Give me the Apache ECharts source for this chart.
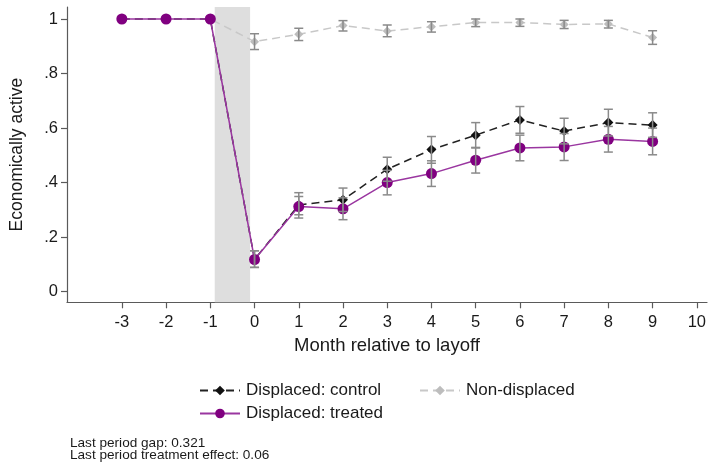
<!DOCTYPE html>
<html>
<head>
<meta charset="utf-8">
<script src="https://cdn.jsdelivr.net/npm/echarts@6/dist/echarts.min.js"></script>
<style>
  html, body { margin: 0; padding: 0; background: #fff; }
  #chart { width: 709px; height: 463px; }
</style>
</head>
<body>
<div id="chart"></div>
<script>
// Months relative to layoff
const months = [-3, -2, -1, 0, 1, 2, 3, 4, 5, 6, 7, 8, 9];
const xTicks = [-3, -2, -1, 0, 1, 2, 3, 4, 5, 6, 7, 8, 9, 10];
const yTicks = [0, 0.2, 0.4, 0.6, 0.8, 1];

// Share economically active, with 95% CI bounds
const controlMean = [1, 1, 1, 0.118, 0.318, 0.337, 0.449, 0.521, 0.574, 0.630, 0.589, 0.620, 0.611];
const controlLo   = [1, 1, 1, 0.089, 0.282, 0.294, 0.405, 0.471, 0.527, 0.581, 0.542, 0.571, 0.566];
const controlHi   = [1, 1, 1, 0.150, 0.363, 0.380, 0.493, 0.569, 0.620, 0.679, 0.636, 0.669, 0.656];

const treatedMean = [1, 1, 1, 0.118, 0.312, 0.304, 0.400, 0.433, 0.482, 0.527, 0.531, 0.559, 0.551];
const treatedLo   = [1, 1, 1, 0.089, 0.270, 0.264, 0.355, 0.386, 0.435, 0.480, 0.481, 0.512, 0.502];
const treatedHi   = [1, 1, 1, 0.150, 0.349, 0.344, 0.445, 0.480, 0.529, 0.574, 0.580, 0.606, 0.600];

const nonDispMean = [1, 1, 1, 0.917, 0.944, 0.976, 0.956, 0.972, 0.987, 0.987, 0.980, 0.982, 0.932];
const nonDispLo   = [1, 1, 1, 0.888, 0.921, 0.956, 0.935, 0.952, 0.972, 0.973, 0.965, 0.967, 0.907];
const nonDispHi   = [1, 1, 1, 0.946, 0.966, 0.994, 0.978, 0.990, 1.000, 1.000, 0.995, 0.995, 0.957];

// Shaded layoff window
const layoffBand = [-0.9, -0.1];

const notes = ['Last period gap: 0.321', 'Last period treatment effect: 0.06'];

const FONT = '"Liberation Sans", Arial, Helvetica, sans-serif';
const TXT = '#1a1a1a';
const AXIS = '#5a5a5a';
const CI_COLOR = '#8a8a8a';

const pair = (ys) => months.map((m, i) => [m, ys[i]]);

// Capped range bars drawn through the axes' coordinate system
function capSeries(lo, hi) {
  return {
    type: 'custom',
    z: 5,
    silent: true,
    data: months.map((m, i) => [m, lo[i], hi[i]]),
    encode: { x: 0, y: [1, 2] },
    renderItem: function (params, api) {
      const x = api.value(0), l = api.value(1), h = api.value(2);
      if (h - l < 1e-6) return null;
      const a = api.coord([x, l]);
      const b = api.coord([x, h]);
      const half = 4.5;
      const style = { stroke: CI_COLOR, lineWidth: 1.5, fill: null };
      return {
        type: 'group',
        children: [
          { type: 'line', shape: { x1: a[0], y1: a[1], x2: b[0], y2: b[1] }, style: style },
          { type: 'line', shape: { x1: a[0] - half, y1: a[1], x2: a[0] + half, y2: a[1] }, style: style },
          { type: 'line', shape: { x1: b[0] - half, y1: b[1], x2: b[0] + half, y2: b[1] }, style: style }
        ]
      };
    }
  };
}

const chart = echarts.init(document.getElementById('chart'), null, { renderer: 'canvas' });

chart.setOption({
  animation: false,
  backgroundColor: '#fff',
  textStyle: { fontFamily: FONT },
  grid: { left: 66.7, right: 2, top: 7, bottom: 160.7, containLabel: false },
  xAxis: {
    type: 'value',
    min: -4.24,
    max: 10.23,
    name: 'Month relative to layoff',
    nameLocation: 'middle',
    nameGap: 32,
    nameTextStyle: { fontSize: 18.5, color: TXT, fontFamily: FONT },
    axisLine: { show: true, onZero: false, lineStyle: { color: AXIS, width: 1.2 } },
    axisTick: { show: true, length: 6, customValues: xTicks, lineStyle: { color: AXIS, width: 1.2 } },
    axisLabel: { customValues: xTicks, fontSize: 16.5, color: TXT, margin: 12, fontFamily: FONT },
    splitLine: { show: false }
  },
  yAxis: {
    type: 'value',
    min: -0.039,
    max: 1.044,
    name: 'Economically active',
    nameLocation: 'middle',
    nameGap: 41,
    nameTextStyle: { fontSize: 17.5, color: TXT, fontFamily: FONT },
    axisLine: { show: true, onZero: false, lineStyle: { color: AXIS, width: 1.2 } },
    axisTick: { show: true, length: 6, customValues: yTicks, lineStyle: { color: AXIS, width: 1.2 } },
    axisLabel: {
      customValues: yTicks,
      fontSize: 16.5,
      color: TXT,
      margin: 9,
      fontFamily: FONT,
      formatter: function (v) {
        if (Math.abs(v) < 1e-9) return '0';
        if (Math.abs(v - 1) < 1e-9) return '1';
        return '.' + Math.round(v * 10);
      }
    },
    splitLine: { show: false }
  },
  legend: [
    {
      orient: 'vertical',
      left: 194,
      top: 377,
      itemWidth: 40,
      itemHeight: 12,
      itemGap: 6,
      textStyle: { fontSize: 17, color: TXT, fontFamily: FONT, padding: [0, 0, 0, 1] },
      data: ['Displaced: control', 'Displaced: treated']
    },
    {
      orient: 'vertical',
      left: 414,
      top: 377,
      itemWidth: 40,
      itemHeight: 12,
      textStyle: { fontSize: 17, color: TXT, fontFamily: FONT, padding: [0, 0, 0, 1] },
      data: ['Non-displaced']
    }
  ],
  graphic: notes.map((t, i) => ({
    type: 'text',
    left: 70,
    top: 436 + i * 12,
    style: { text: t, font: '13.6px ' + FONT, fill: TXT }
  })),
  series: [
    {
      name: 'band',
      type: 'line',
      data: [],
      z: 0,
      silent: true,
      markArea: {
        silent: true,
        itemStyle: { color: '#dedede' },
        data: [[{ xAxis: layoffBand[0] }, { xAxis: layoffBand[1] }]]
      }
    },
    {
      name: 'Non-displaced',
      type: 'line',
      z: 2,
      data: pair(nonDispMean),
      symbol: 'diamond',
      symbolSize: 9,
      itemStyle: { color: '#bdbdbd' },
      lineStyle: { color: '#c8c8c8', width: 1.5, type: [8, 5] }
    },
    {
      name: 'Displaced: control',
      type: 'line',
      z: 3,
      data: pair(controlMean),
      symbol: 'diamond',
      symbolSize: 10,
      itemStyle: { color: '#111111' },
      lineStyle: { color: '#222222', width: 1.5, type: [8, 5] }
    },
    {
      name: 'Displaced: treated',
      type: 'line',
      z: 4,
      data: pair(treatedMean),
      symbol: 'circle',
      symbolSize: 11,
      itemStyle: { color: '#800080' },
      lineStyle: { color: '#9a36a0', width: 1.5 }
    },
    capSeries(nonDispLo, nonDispHi),
    capSeries(controlLo, controlHi),
    capSeries(treatedLo, treatedHi)
  ]
});
</script>
</body>
</html>
